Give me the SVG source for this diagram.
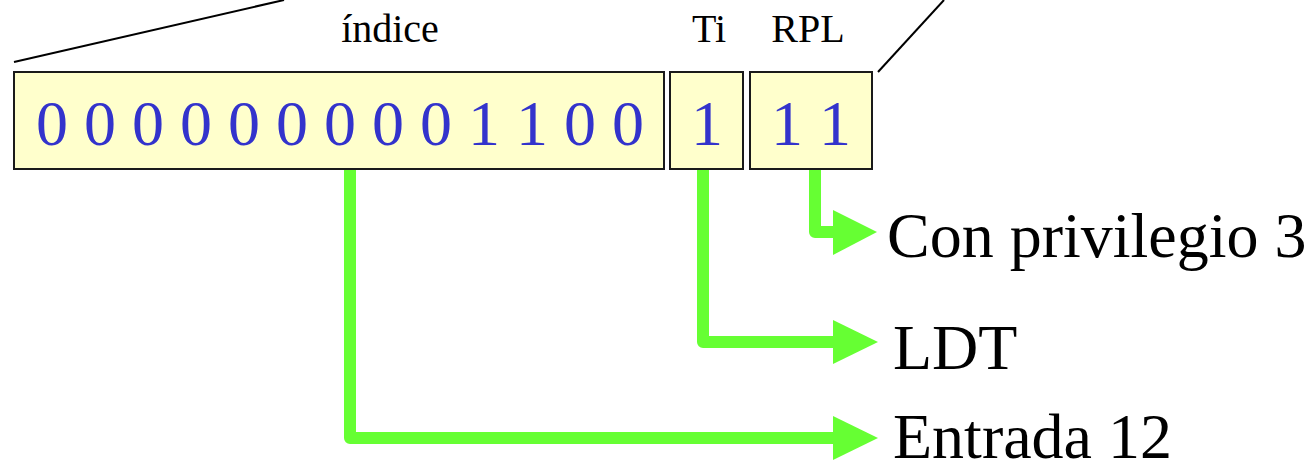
<svg xmlns="http://www.w3.org/2000/svg" width="1312" height="466" viewBox="0 0 1312 466">
  <style>
    .field { fill: #ffffcc; stroke: #1a1a1a; stroke-width: 2; }
    .bits { font-family: "Liberation Serif", "Times New Roman", serif; font-size: 64px; fill: #3333cc; text-anchor: middle; }
    .head { font-family: "Liberation Serif", "Times New Roman", serif; font-size: 40px; fill: #000; text-anchor: middle; }
    .label { font-family: "Liberation Serif", "Times New Roman", serif; font-size: 64px; fill: #000; }
    .guide { stroke: #000; stroke-width: 2; fill: none; }
    .wire { stroke: #66ff33; stroke-width: 12; fill: none; stroke-linejoin: round; stroke-linecap: butt; }
    .tip { fill: #66ff33; }
  </style>

  <!-- expansion guide lines -->
  <g id="guides">
    <line class="guide" x1="14" y1="62" x2="284" y2="0"/>
    <line class="guide" x1="878" y1="72" x2="944" y2="0"/>
  </g>

  <!-- selector fields -->
  <g id="indice">
    <rect class="field" x="14" y="72" width="650" height="97"/>
    <text class="head" x="390" y="42">índice</text>
    <text class="bits" x="340" y="145">0 0 0 0 0 0 0 0 0 1 1 0 0</text>
  </g>
  <g id="ti">
    <rect class="field" x="670" y="72" width="73" height="97"/>
    <text class="head" x="709" y="42">Ti</text>
    <text class="bits" x="707" y="145">1</text>
  </g>
  <g id="rpl">
    <rect class="field" x="750" y="72" width="122" height="97"/>
    <text class="head" x="808" y="42">RPL</text>
    <text class="bits" x="811" y="145">1 1</text>
  </g>

  <!-- connectors -->
  <g id="connectors">
    <path class="wire" d="M815 170 V232 H834"/>
    <polygon class="tip" points="833,210 877,232 833,255"/>
    <path class="wire" d="M703 170 V342 H834"/>
    <polygon class="tip" points="833,320 878,342 833,364"/>
    <path class="wire" d="M350 170 V438 H834"/>
    <polygon class="tip" points="833,416 878,438 833,460"/>
  </g>

  <!-- meanings -->
  <g id="privilegio">
    <text class="label" x="887" y="257">Con privilegio 3</text>
  </g>
  <g id="ldt">
    <text class="label" x="893" y="369">LDT</text>
  </g>
  <g id="entrada">
    <text class="label" x="893" y="458">Entrada 12</text>
  </g>
</svg>
